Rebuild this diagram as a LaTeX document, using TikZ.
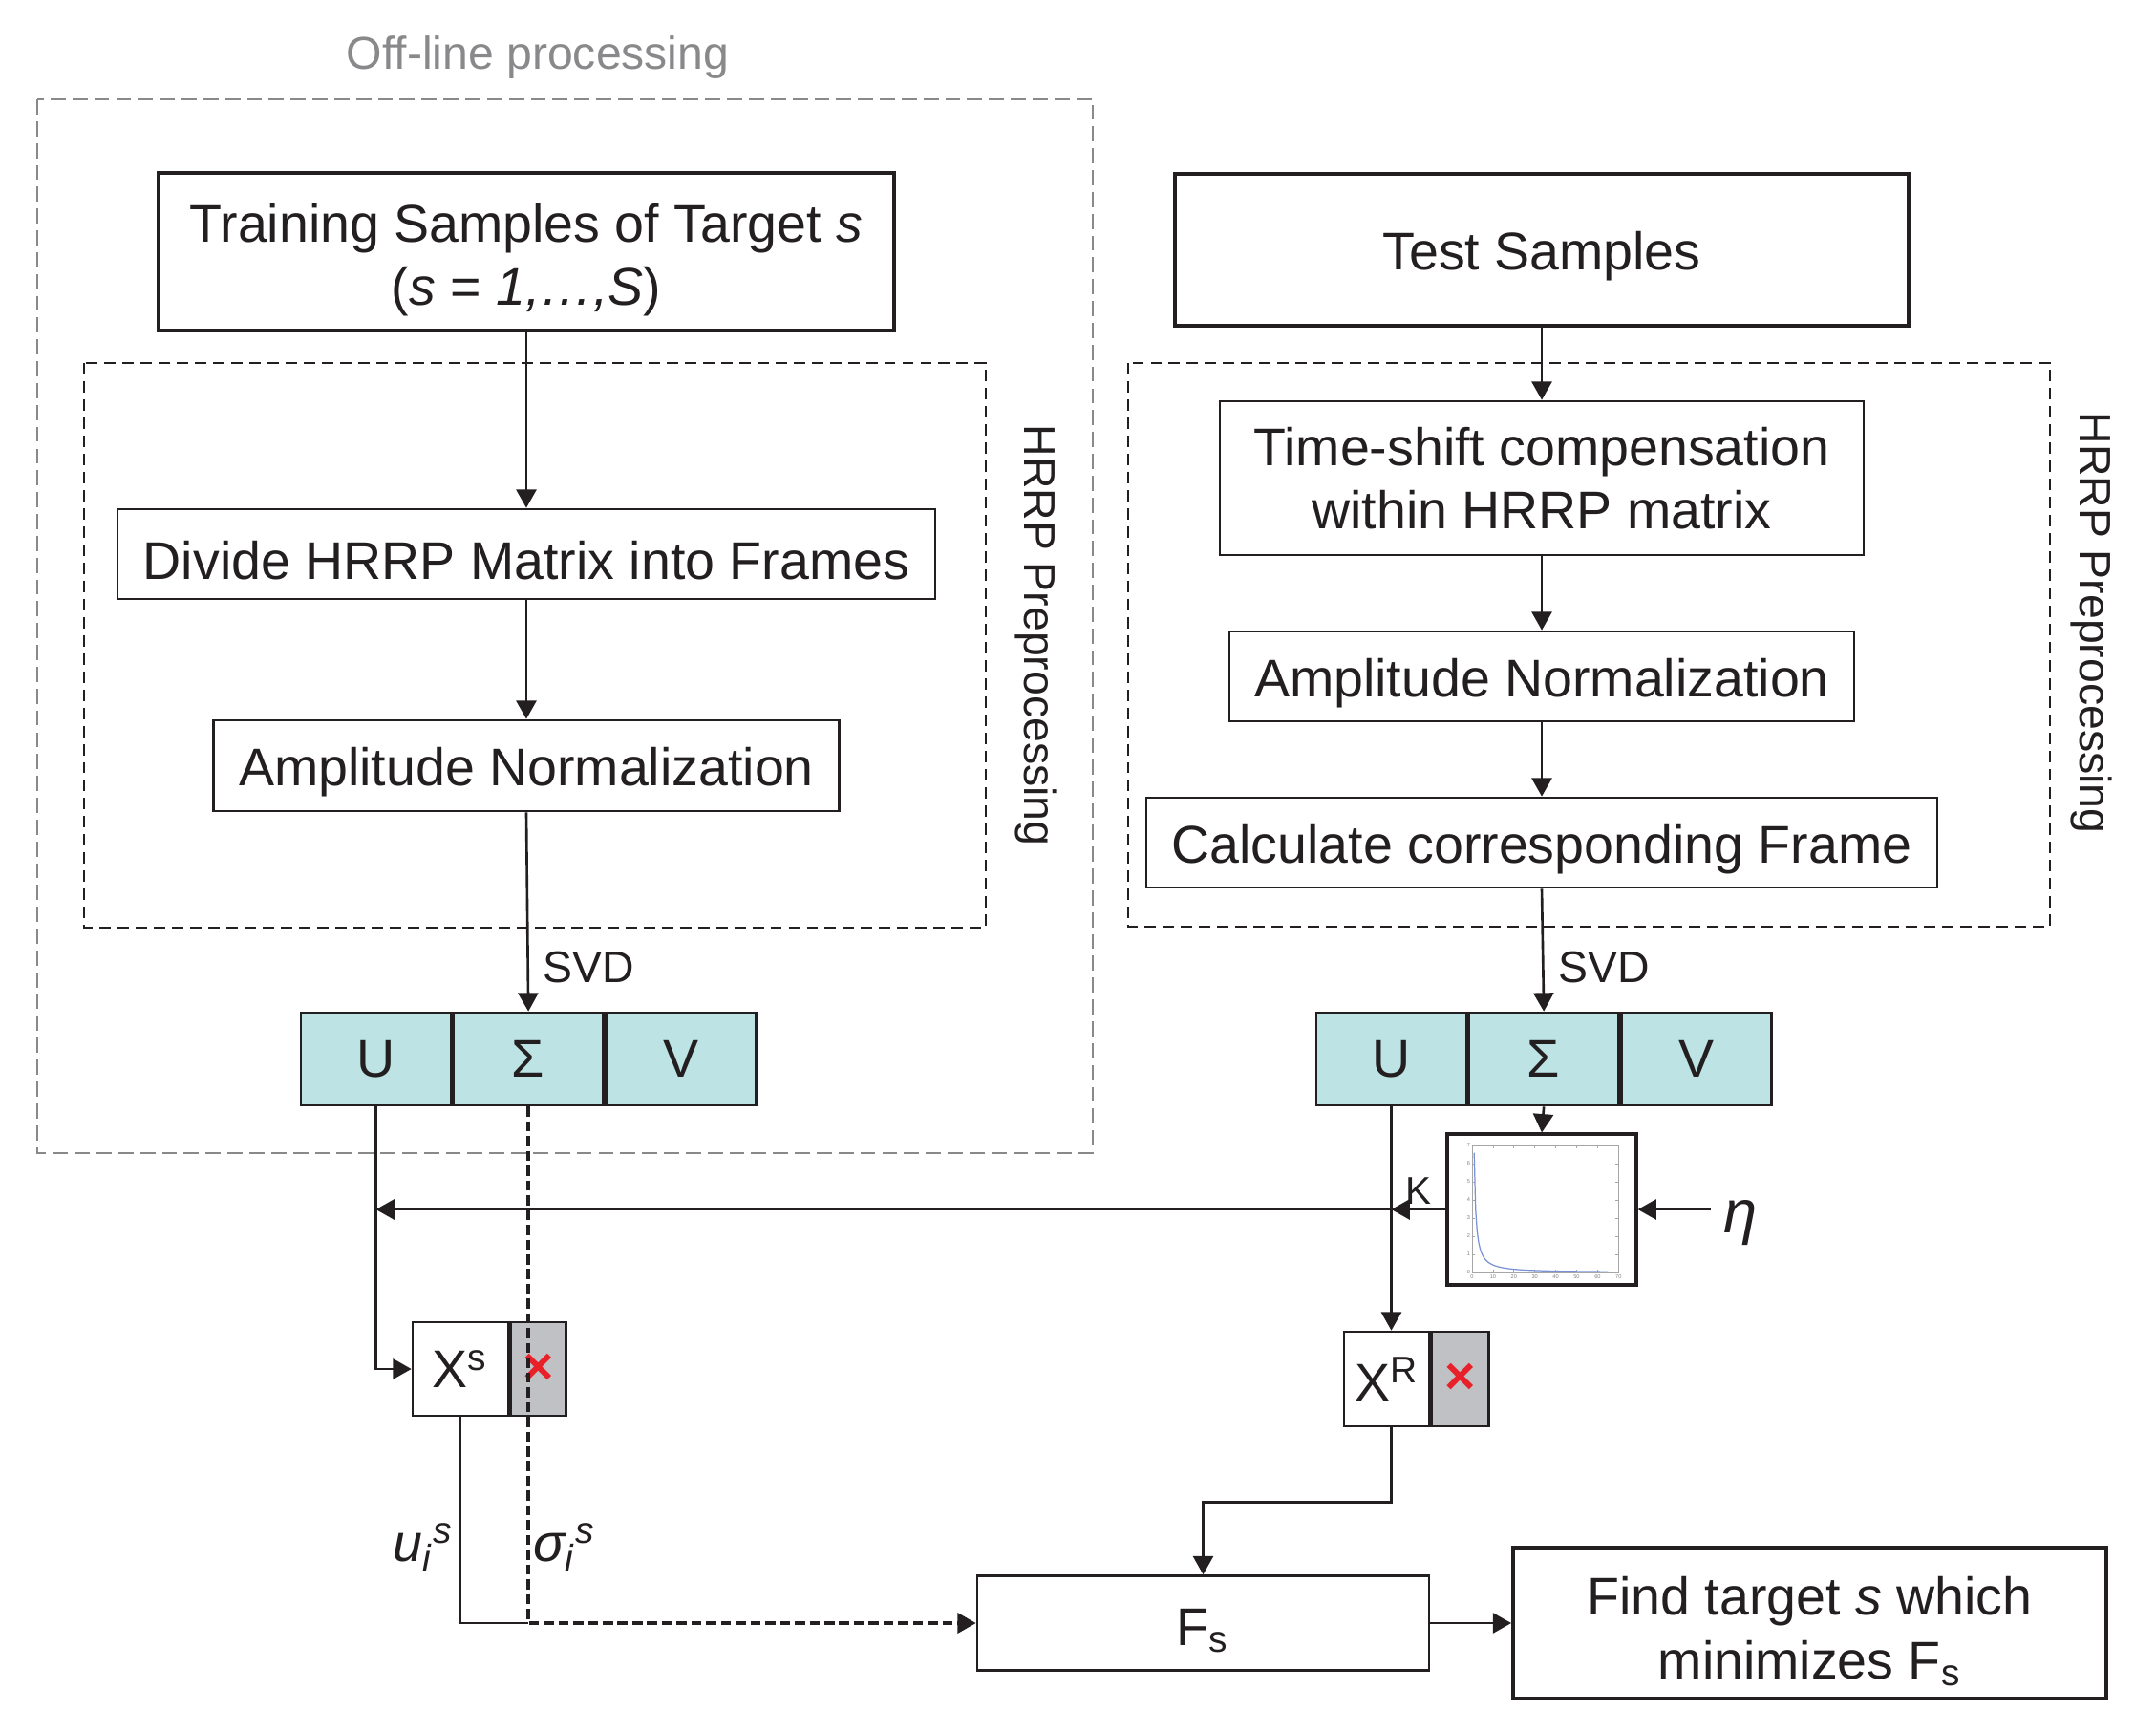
\documentclass[tikz,border=0pt]{standalone}
\usepackage{fontspec}
\setmainfont{Liberation Sans}
\usetikzlibrary{arrows.meta,positioning}

\definecolor{ink}{RGB}{35,31,32}
\definecolor{svdcyan}{RGB}{189,227,229}
\definecolor{cellgray}{RGB}{192,193,196}
\definecolor{framegray}{RGB}{137,137,140}
\definecolor{crossred}{RGB}{232,32,42}
\definecolor{curveblue}{RGB}{120,145,215}

\newcommand{\boxfont}{\fontsize{15.8}{18.8}\selectfont}
\newcommand{\labfont}{\fontsize{13.2}{15}\selectfont}
\newcommand{\topstrut}{\rule{0pt}{16.5pt}}

\tikzset{
    cellbase/.style={draw=ink, line width=0.75pt, inner sep=0pt, align=center, font=\boxfont},
    block/.style={cellbase, execute at begin node={\rule{0pt}{15.5pt}}},
    bigblock/.style={block, line width=1.1pt},
    svdcell/.style={cellbase, fill=svdcyan, minimum width=1.57cm, minimum height=0.97cm},
    xcell/.style={cellbase, fill=cellgray},
    hrrpframe/.style={draw=ink, line width=0.6pt, dash pattern=on 3.4pt off 2pt},
    offframe/.style={draw=framegray, line width=0.8pt, dash pattern=on 4.5pt off 2pt},
    arr/.style={draw=ink, line width=0.75pt, -{Triangle[length=5.5pt,width=6pt]}},
    sig/.style={arr, line width=0.95pt, dash pattern=on 3pt off 1.4pt},
}

\begin{document}
\begin{tikzpicture}[color=ink, font=\boxfont]
    \useasboundingbox (0,0) rectangle (22.57,-18.13);

    % frames
    \draw[offframe] (0.39,-1.04) rectangle (11.44,-12.07);
    \node[text=framegray, font=\fontsize{13.7}{15}\selectfont] (offline) at (5.63,-0.60) {Off-line processing};
    \draw[hrrpframe] (0.88,-3.80) rectangle (10.32,-9.71);
    \draw[hrrpframe] (11.81,-3.80) rectangle (21.46,-9.70);
    \node[rotate=-90, font=\labfont] (hrrpL) at (10.84,-6.65) {HRRP Preprocessing};
    \node[rotate=-90, font=\labfont] (hrrpR) at (21.89,-6.52) {HRRP Preprocessing};

    % training side
    \node[bigblock, minimum width=7.70cm, minimum height=1.65cm] (train) at (5.51,-2.635)
        {\topstrut Training Samples of Target \textit{s}\\(\textit{s} = \textit{1,…,S})};
    \node[block, minimum width=8.56cm, minimum height=0.94cm] (divide) at (5.51,-5.80)
        {Divide HRRP Matrix into Frames};
    \node[block, minimum width=6.55cm, minimum height=0.95cm] (normL) at (5.51,-8.015)
        {Amplitude Normalization};
    \node[svdcell] (uL) at (3.935,-11.085) {U};
    \node[svdcell, right=0pt of uL] (sL) {Σ};
    \node[svdcell, right=0pt of sL] (vL) {V};
    \node[anchor=west, font=\labfont] (svdL) at (5.56,-10.13) {SVD};

    % test side
    \node[bigblock, minimum width=7.68cm, minimum height=1.59cm] (test) at (16.14,-2.615) {Test Samples};
    \node[block, minimum width=6.74cm, minimum height=1.61cm] (shift) at (16.14,-5.005)
        {Time-shift compensation\\within HRRP matrix};
    \node[block, minimum width=6.54cm, minimum height=0.94cm] (normR) at (16.14,-7.08)
        {Amplitude Normalization};
    \node[block, minimum width=8.28cm, minimum height=0.94cm] (calc) at (16.14,-8.82)
        {Calculate corresponding Frame};
    \node[svdcell] (uR) at (14.565,-11.085) {U};
    \node[svdcell, right=0pt of uR] (sR) {Σ};
    \node[svdcell, right=0pt of sR] (vR) {V};
    \node[anchor=west, font=\labfont] (svdR) at (16.19,-10.13) {SVD};

    % singular value plot
    \node[cellbase, line width=0.9pt, minimum width=1.98cm, minimum height=1.58cm] (eig) at (16.14,-12.66) {};
    \begin{scope}[shift={(15.41,-13.32)}, x=0.0219cm, y=0.19cm]
        \draw[gray!70, line width=0.2pt] (0,0) rectangle (70,7);
        \foreach \t in {0,...,7} {
            \draw[gray!70, line width=0.2pt] (0,\t) -- (1.3,\t) (70,\t) -- (68.7,\t);
            \node[gray, font=\fontsize{1.6}{2}\selectfont, anchor=east, inner sep=0.4pt] (yt\t) at (0,\t) {\t};
        }
        \foreach \t in {0,10,...,70} {
            \draw[gray!70, line width=0.2pt] (\t,0) -- (\t,0.16) (\t,7) -- (\t,6.84);
            \node[gray, font=\fontsize{1.6}{2}\selectfont, anchor=north, inner sep=0.4pt] (xt\t) at (\t,0) {\t};
        }
        \draw[curveblue, line width=0.35pt, domain=1:65, samples=90] plot (\x, {6.6*\x^(-1.2)});
    \end{scope}
    \node[font=\fontsize{18}{20}\selectfont\itshape] (eta) at (18.22,-12.80) {η};
    \coordinate (etatail) at (17.91,-12.66);
    \node[font=\fontsize{11.5}{13}\selectfont] (kval) at (14.85,-12.47) {K};

    % reduced matrices
    \node[cellbase, minimum width=1.00cm, minimum height=0.98cm] (xsL) at (4.82,-14.33) {X\textsuperscript{s}};
    \node[xcell, minimum width=0.58cm, minimum height=0.98cm, right=0pt of xsL] (xsR)
        {\textcolor{crossred}{\bfseries ×}};
    \node[cellbase, minimum width=0.89cm, minimum height=0.99cm] (xrL) at (14.515,-14.435) {X\textsuperscript{R}};
    \node[xcell, minimum width=0.60cm, minimum height=0.99cm, right=0pt of xrL] (xrR)
        {\textcolor{crossred}{\bfseries ×}};

    % decision
    \node[block, minimum width=4.73cm, minimum height=0.99cm] (fs) at (12.595,-16.99) {F\textsubscript{s}};
    \node[bigblock, minimum width=6.21cm, minimum height=1.58cm] (best) at (18.945,-16.99)
        {\topstrut Find target \textit{s} which\\minimizes F\textsubscript{s}};
    \node[font=\boxfont\itshape] (ulab) at (4.43,-16.20) {u\textsubscript{i}\textsuperscript{s}};
    \node[font=\boxfont\itshape] (slab) at (5.91,-16.20) {σ\textsubscript{i}\textsuperscript{s}};

    % connectors
    \draw[arr] (train.south) -- (divide.north);
    \draw[arr] (divide.south) -- (normL.north);
    \draw[arr] (normL.south) -- (sL.north);
    \draw[arr] (test.south) -- (shift.north);
    \draw[arr] (shift.south) -- (normR.north);
    \draw[arr] (normR.south) -- (calc.north);
    \draw[arr] (calc.south) -- (sR.north);
    \draw[arr] (sR.south) -- (eig.north);
    \draw[arr] (etatail) -- (eig.east);
    \draw[arr] (eig.west) -- (uR.south |- eig.west);
    \draw[arr] (uR.south |- eig.west) -- (uL.south |- eig.west);
    \draw[arr] (uL.south) |- (xsL.west);
    \draw[arr] (uR.south) -- (uR.south |- xrL.north);
    \draw[line width=0.75pt] (xsL.south) |- (sL.south |- fs.west);
    \draw[arr] (uR.south |- xrL.south) -- ++(0,-0.78) -| (fs.north);
    \draw[arr] (fs.east) -- (best.west);
    \draw[sig] (sL.south) |- (fs.west);
\end{tikzpicture}
\end{document}
